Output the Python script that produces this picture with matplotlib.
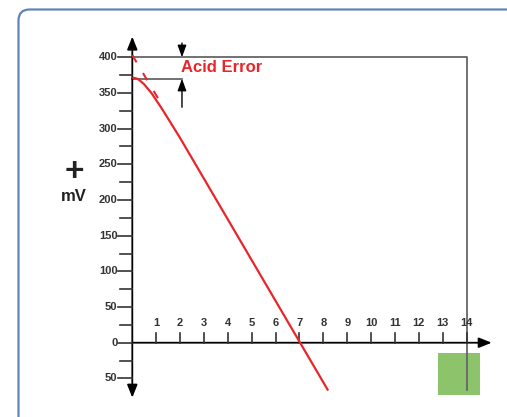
import matplotlib
matplotlib.use("Agg")
import matplotlib.pyplot as plt
from matplotlib.patches import FancyBboxPatch, Rectangle
from matplotlib.transforms import IdentityTransform

plt.rcParams['font.family'] = ['Liberation Sans', 'DejaVu Sans']

# ---- data ----
x_ticks = [1, 2, 3, 4, 5, 6, 7, 8, 9, 10, 11, 12, 13, 14]
x_tick_labels = [str(v) for v in x_ticks]
y_ticks = [-50, 0, 50, 100, 150, 200, 250, 300, 350, 400]
y_tick_labels = ["50", "0", "50", "100", "150", "200", "250", "300", "350", "400"]
y_minor = [-25, 25, 75, 125, 175, 225, 275, 325, 375]

curve_ph = [0.0, 0.1, 0.2, 0.3, 0.4, 0.5, 0.6, 0.8, 1.0, 1.2, 1.5, 2.0, 8.2]
curve_mv = [371, 371, 370, 368, 365, 362, 358, 350, 340, 330, 314, 287, -67]

ideal_ph = [0.0, 1.3]
ideal_mv = [403, 330]

acid_top = 400
acid_bottom = 370

RED = "#e8262a"
GRAY = "#666666"

fig = plt.figure(figsize=(5.07, 4.17), dpi=100)
ax = fig.add_axes([0, 0, 1, 1])
ax.set_xlim(-5.54, 15.69)
ax.set_ylim(-104.1, 480.3)
ax.axis("off")

# frame
frame = FancyBboxPatch((18.5, -30), 520, 417 - 9.5 + 30,
                       boxstyle="round,pad=0,rounding_size=11",
                       transform=IdentityTransform(), fill=False,
                       edgecolor="#6283b8", linewidth=1.6, zorder=0)
fig.patches.append(frame)

# green square
ax.add_patch(Rectangle((12.79, -73.4), 1.77, 58.5, facecolor="#8dc46b",
                       edgecolor="none", zorder=1))

# gray box lines
ax.plot([0, 14, 14], [acid_top, acid_top, -66], color=GRAY, lw=1.3, zorder=2)
ax.plot([0, 2.1], [acid_bottom, acid_bottom], color=GRAY, lw=1.3, zorder=2)

# axes with arrows
ax.annotate("", xy=(0, 429), xytext=(0, -77),
            arrowprops=dict(arrowstyle="<|-|>,head_length=0.55,head_width=0.22",
                            color="black", lw=1.3, mutation_scale=14, shrinkA=0, shrinkB=0),
            zorder=3)
ax.annotate("", xy=(15.05, 0), xytext=(0, 0),
            arrowprops=dict(arrowstyle="-|>,head_length=0.55,head_width=0.22",
                            color="black", lw=1.3, mutation_scale=14, shrinkA=0, shrinkB=0),
            zorder=3)

# y ticks
for v, lab in zip(y_ticks, y_tick_labels):
    ax.plot([-0.6, 0], [v, v], color="#333333", lw=1.2, zorder=3)
    ax.text(-0.62, v, lab, ha="right", va="center", fontsize=8,
            fontweight="bold", color="#333333")
for v in y_minor:
    ax.plot([-0.5, 0], [v, v], color="#333333", lw=1.2, zorder=3)

# x ticks
for v, lab in zip(x_ticks, x_tick_labels):
    ax.plot([v, v], [0, 13.6], color="#333333", lw=1.2, zorder=3)
    ax.text(v, 28, lab, ha="center", va="center", fontsize=8,
            fontweight="bold", color="#333333")

# dimension arrows
ax.annotate("", xy=(2.08, acid_top), xytext=(2.08, 420),
            arrowprops=dict(arrowstyle="-|>,head_length=0.6,head_width=0.22",
                            color="black", lw=1.0, mutation_scale=12, shrinkA=0, shrinkB=0))
ax.annotate("", xy=(2.08, acid_bottom), xytext=(2.08, 330),
            arrowprops=dict(arrowstyle="-|>,head_length=0.6,head_width=0.22",
                            color="black", lw=1.0, mutation_scale=12, shrinkA=0, shrinkB=0))

# curves
ax.plot(ideal_ph, ideal_mv, color=RED, lw=1.5, dashes=(4, 6), zorder=4)
ax.plot(curve_ph, curve_mv, color=RED, lw=1.6, zorder=4, solid_capstyle="butt")

ax.text(2.05, 386, "Acid Error", color=RED, fontsize=12, fontweight="bold",
        ha="left", va="center")

# y label
ax.text(-2.44, 238, "+", fontsize=24, fontweight="bold", ha="center", va="center",
        color="#222222")
ax.text(-2.47, 205, "mV", fontsize=12, fontweight="bold", ha="center", va="center",
        color="#222222")

fig.savefig("out.png", dpi=100)
